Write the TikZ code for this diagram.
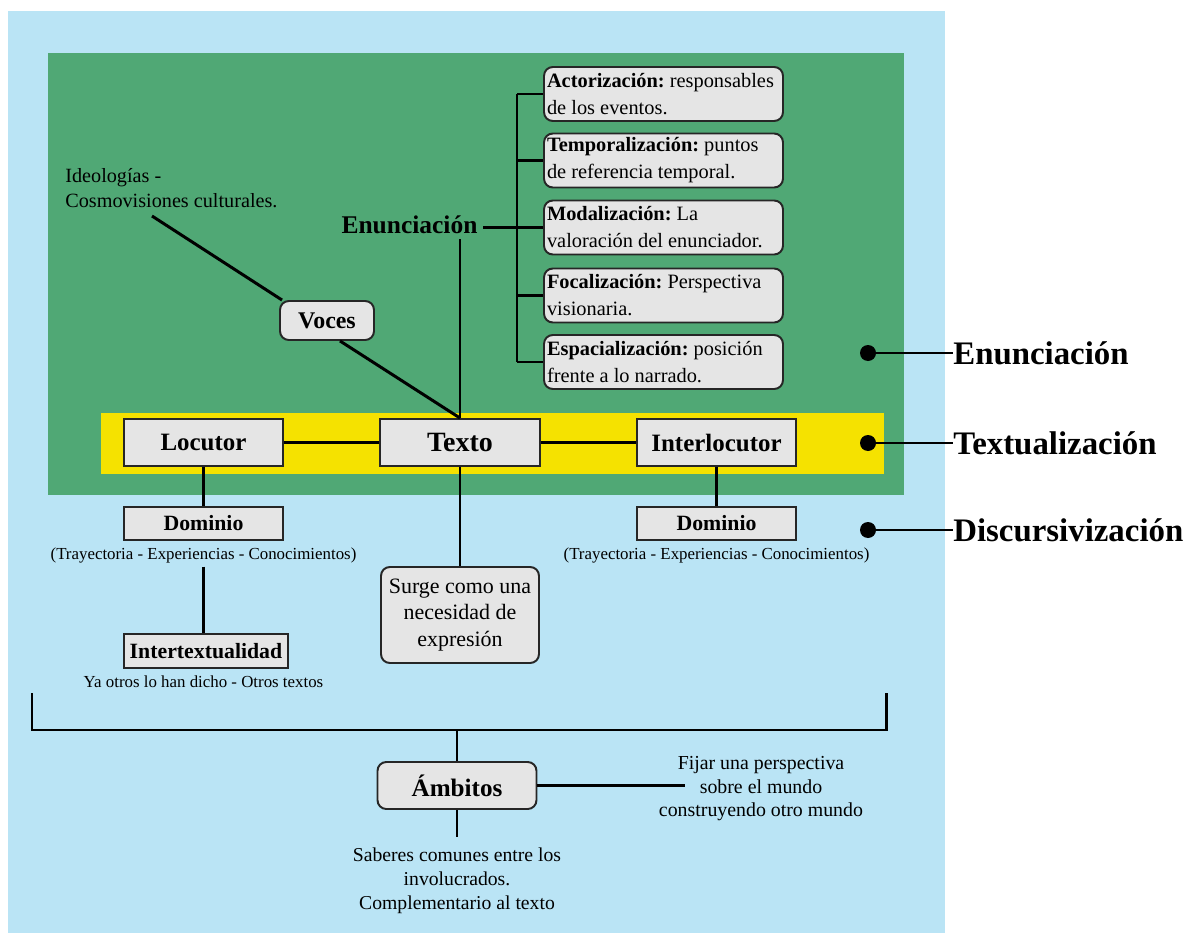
\documentclass[tikz,border=0pt]{standalone}
\usepackage{fontspec}
\setmainfont{Liberation Serif}
\frenchspacing
\usetikzlibrary{positioning,calc}
\definecolor{skyback}{RGB}{186,228,245}
\definecolor{enungreen}{RGB}{80,168,117}
\definecolor{textyellow}{RGB}{245,226,0}
\definecolor{boxgray}{RGB}{229,229,229}
\tikzset{
  conn/.style={line width=1.7pt},
  sqbox/.style={draw=black!85, line width=1.1pt, fill=boxgray, inner sep=2pt, align=center},
  rndbox/.style={sqbox, rounded corners=5pt},
  rolebox/.style={sqbox, minimum width=3.18cm, minimum height=0.94cm, font=\fontsize{14.2}{17}\selectfont\bfseries},
  dombox/.style={sqbox, minimum width=3.18cm, minimum height=0.66cm, font=\fontsize{12.4}{15}\selectfont\bfseries},
  facetbox/.style={rndbox, minimum height=1.08cm, text width=4.66cm, align=flush left, inner xsep=0.06cm, font=\fontsize{11.6}{15.3}\selectfont},
  freetext/.style={inner sep=2pt, align=center},
  smalltext/.style={freetext, anchor=base, font=\fontsize{9.6}{11}\selectfont},
  dotmark/.style={circle, fill=black, inner sep=0pt, minimum size=0.32cm},
  layerlabel/.style={inner sep=0pt, anchor=base west, font=\fontsize{18.7}{22}\selectfont\bfseries},
}
\begin{document}
\begin{tikzpicture}[x=0.02cm, y=-0.02cm]
  % layers of the scheme
  \fill[white] (0,0) rectangle (1191,933);
  \fill[skyback] (8,11) rectangle (945,933);
  \fill[enungreen] (48,53) rectangle (904,495);
  \fill[textyellow] (101,413) rectangle (884,474);
  \useasboundingbox (0,0) rectangle (1191,933);

  % textualizacion row
  \node[rolebox] (locutor) at (203.5,442.5) {Locutor};
  \node[rolebox, minimum width=3.2cm, font=\fontsize{15.9}{19}\selectfont\bfseries] (texto) at (460,442.5) {Texto};
  \node[rolebox] (interloc) at (716.5,442.5) {Interlocutor};
  \draw[conn] (locutor) -- (texto) -- (interloc);

  % enunciacion
  \node[freetext, anchor=base, inner sep=3pt, font=\fontsize{14.5}{17}\selectfont\bfseries] (enun) at (409.5,233) {Enunciación};
  \node[facetbox] (act) at (663.5,94) {\textbf{Actorización:} responsables\\de los eventos.};
  \node[facetbox] (tem) at (663.5,160.5) {\textbf{Temporalización:} puntos\\de referencia temporal.};
  \node[facetbox] (mod) at (663.5,227.5) {\textbf{Modalización:} La\\valoración del enunciador.};
  \node[facetbox] (foc) at (663.5,295.5) {\textbf{Focalización:} Perspectiva\\visionaria.};
  \node[facetbox] (esp) at (663.5,362) {\textbf{Espacialización:} posición\\frente a lo narrado.};
  \coordinate (brk) at (517,0);
  \draw[conn] (brk |- act.west) -- (brk |- esp.west);
  \foreach \f in {act,tem,foc,esp} \draw[conn] (brk |- \f.west) -- (\f.west);
  \draw[conn] (enun.east |- mod.west) -- (mod.west);
  \draw[conn] (texto.north) -- (texto.north |- enun.south);

  % voces
  \node[freetext, align=flush left, anchor=west, inner sep=0pt, font=\fontsize{11.5}{14.2}\selectfont] (ideo) at (65,188) {Ideologías -\\Cosmovisiones culturales.};
  \coordinate (ideoend) at (152,216);
  \node[rndbox, minimum width=1.88cm, minimum height=0.78cm, font=\fontsize{13.6}{16}\selectfont\bfseries] (voces) at (327,320.5) {Voces};
  \draw[conn] (ideoend) -- ([xshift=0.06cm]voces.north west);
  \draw[conn] ([xshift=0.26cm]voces.south) -- (texto.north);

  % discursivizacion
  \node[dombox] (domL) at (203.5,523.5) {Dominio};
  \node[dombox] (domR) at (716.5,523.5) {Dominio};
  \node[smalltext] (trayL) at (203.5,559) {(Trayectoria - Experiencias - Conocimientos)};
  \node[smalltext] (trayR) at (716.5,559) {(Trayectoria - Experiencias - Conocimientos)};
  \draw[conn] (locutor) -- (domL);
  \draw[conn] (interloc) -- (domR);
  \node[dombox, minimum width=3.28cm, minimum height=0.68cm] (inter) at (206,651) {Intertextualidad};
  \node[smalltext] (yaotros) at (203.5,687) {Ya otros lo han dicho - Otros textos};
  \draw[conn] (trayL.south) -- (trayL.south |- inter.north);
  \node[rndbox, minimum width=3.16cm, minimum height=1.92cm, font=\fontsize{12.5}{15.3}\selectfont] (surge) at (460,615) {Surge como una\\necesidad de\\expresión};
  \draw[conn] (texto) -- (surge);

  % ambitos
  \coordinate (bl) at (32,693);
  \coordinate (br) at (886,693);
  \coordinate (bjoin) at (457,730);
  \draw[conn] (bl) |- (bjoin) -| (br);
  \node[rndbox, minimum width=3.18cm, minimum height=0.94cm, font=\fontsize{14.3}{17}\selectfont\bfseries] (amb) at (457,785.5) {Ámbitos};
  \draw[conn] (bjoin) -- (amb);
  \node[freetext, font=\fontsize{11.3}{13.4}\selectfont] (fijar) at (761,789) {Fijar una perspectiva\\sobre el mundo\\construyendo otro mundo};
  \coordinate (fijarend) at (685,785.5);
  \draw[conn] (amb) -- (fijarend);
  \node[freetext, font=\fontsize{11.2}{13.6}\selectfont] (saber) at (457,881) {Saberes comunes entre los\\involucrados.\\Complementario al texto};
  \coordinate (ambstem) at (457,837);
  \draw[conn] (amb) -- (ambstem);

  % level labels
  \foreach \n/\y/\t in {1/353/Enunciación, 2/443/Textualización, 3/530/Discursivización} {
    \node[dotmark] (dot\n) at (868,\y) {};
    \node[layerlabel] (lay\n) at (953,\y+11.5) {\t};
    \draw[conn] (dot\n) -- (dot\n -| lay\n.west);
  }
\end{tikzpicture}
\end{document}
